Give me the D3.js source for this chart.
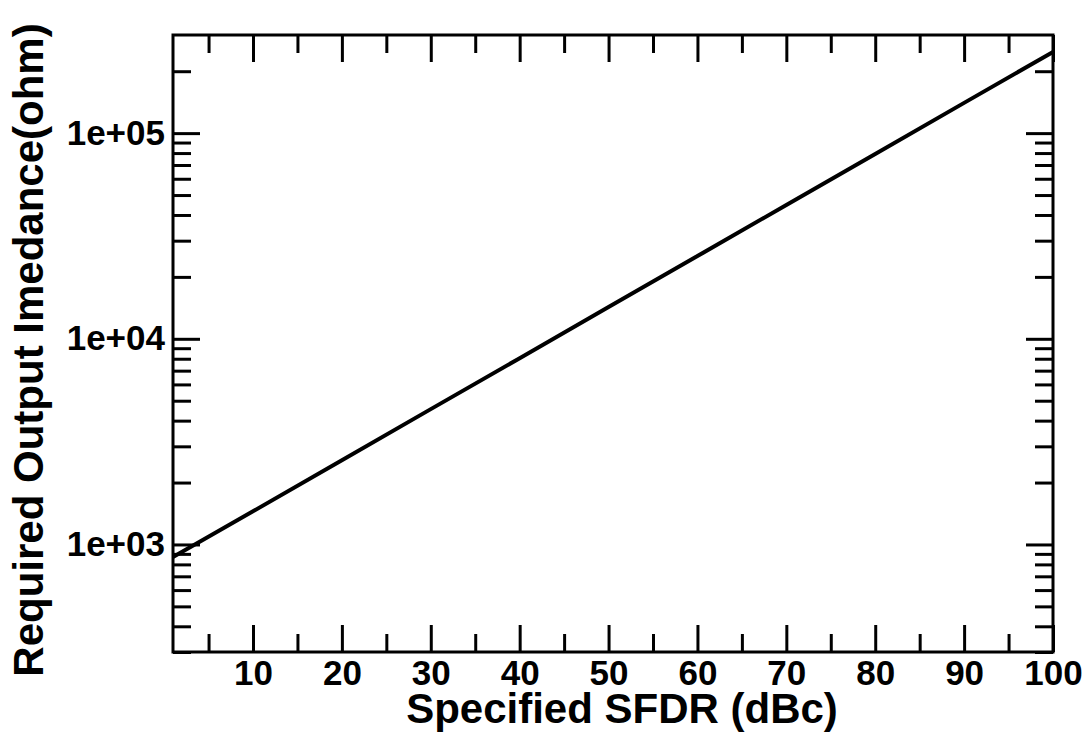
<!DOCTYPE html>
<html>
<head>
<meta charset="utf-8">
<script src="https://cdn.jsdelivr.net/npm/d3@7"></script>
<style>
  body { margin: 0; background: #fff; }
  svg { display: block; }
  .axis path { display: none; }
  .axis line { stroke: #000; stroke-width: 3; }
</style>
</head>
<body>
<div id="chart"></div>
<script>
// values
const sfdr = [1, 10, 20, 30, 40, 50, 60, 70, 80, 90, 100];
const impedance = [870, 1450, 2570, 4550, 8050, 14260, 25240, 44740, 79250, 140300, 248300];

const xMajor = [10, 20, 30, 40, 50, 60, 70, 80, 90, 100];
const xMinor = [5, 15, 25, 35, 45, 55, 65, 75, 85, 95];
const yMajor = [1e3, 1e4, 1e5];
const yMinor = [300, 400, 500, 600, 700, 800, 900,
                2000, 3000, 4000, 5000, 6000, 7000, 8000, 9000,
                20000, 30000, 40000, 50000, 60000, 70000, 80000, 90000,
                200000];
const yLabels = ["1e+03", "1e+04", "1e+05"];

const xTitle = "Specified SFDR (dBc)";
const yTitle = "Required Output Imedance(ohm)";

const fontFam = '"Liberation Sans", Arial, Helvetica, sans-serif';

const width = 1090, height = 741;
const margin = { top: 35, right: 37, bottom: 89, left: 173 };
const plotW = width - margin.left - margin.right;
const plotH = height - margin.top - margin.bottom;

const svg = d3.select("#chart").append("svg")
    .attr("width", width)
    .attr("height", height);

const g = svg.append("g")
    .attr("transform", `translate(${margin.left},${margin.top})`);

const x = d3.scaleLinear().domain([1, 100]).range([0, plotW]);
const y = d3.scaleLog().domain([300, 3e5]).range([plotH, 0]);

const majorLen = 27, minorLen = 18;

// bottom + top ticks (inward)
const xAxisG = g.append("g").attr("class", "axis")
    .attr("transform", `translate(0,${plotH})`)
    .call(d3.axisBottom(x).tickValues(xMajor).tickSize(-majorLen).tickPadding(8)
        .tickFormat(d3.format("d")));
g.append("g").attr("class", "axis")
    .attr("transform", `translate(0,${plotH})`)
    .call(d3.axisBottom(x).tickValues(xMinor).tickSize(-minorLen).tickFormat(""));
g.append("g").attr("class", "axis")
    .call(d3.axisTop(x).tickValues(xMajor).tickSize(-majorLen).tickFormat(""));
g.append("g").attr("class", "axis")
    .call(d3.axisTop(x).tickValues(xMinor).tickSize(-minorLen).tickFormat(""));

// left + right ticks (inward)
const yAxisG = g.append("g").attr("class", "axis")
    .call(d3.axisLeft(y).tickValues(yMajor).tickSize(-majorLen).tickPadding(8)
        .tickFormat((d, i) => yLabels[i]));
g.append("g").attr("class", "axis")
    .call(d3.axisLeft(y).tickValues(yMinor).tickSize(-minorLen).tickFormat(""));
g.append("g").attr("class", "axis")
    .attr("transform", `translate(${plotW},0)`)
    .call(d3.axisRight(y).tickValues(yMajor).tickSize(-majorLen).tickFormat(""));
g.append("g").attr("class", "axis")
    .attr("transform", `translate(${plotW},0)`)
    .call(d3.axisRight(y).tickValues(yMinor).tickSize(-minorLen).tickFormat(""));

// tick label font (d3 puts font attrs on the axis group, so style texts directly)
[xAxisG, yAxisG].forEach(a => a.selectAll("text")
    .style("font-family", fontFam)
    .style("font-weight", "bold")
    .style("font-size", "35px")
    .attr("fill", "#000"));

// data line
const line = d3.line()
    .x((d, i) => x(sfdr[i]))
    .y(d => y(d));

g.append("path")
    .datum(impedance)
    .attr("d", line)
    .attr("fill", "none")
    .attr("stroke", "#000")
    .attr("stroke-width", 4);

// frame
g.append("rect")
    .attr("width", plotW)
    .attr("height", plotH)
    .attr("fill", "none")
    .attr("stroke", "#000")
    .attr("stroke-width", 3);

// axis titles
svg.append("text")
    .attr("x", 622)
    .attr("y", 723)
    .attr("text-anchor", "middle")
    .style("font-family", fontFam)
    .style("font-weight", "bold")
    .style("font-size", "42px")
    .text(xTitle);

svg.append("text")
    .attr("transform", `translate(43,350) rotate(-90)`)
    .attr("text-anchor", "middle")
    .style("font-family", fontFam)
    .style("font-weight", "bold")
    .style("font-size", "42px")
    .text(yTitle);
</script>
</body>
</html>
